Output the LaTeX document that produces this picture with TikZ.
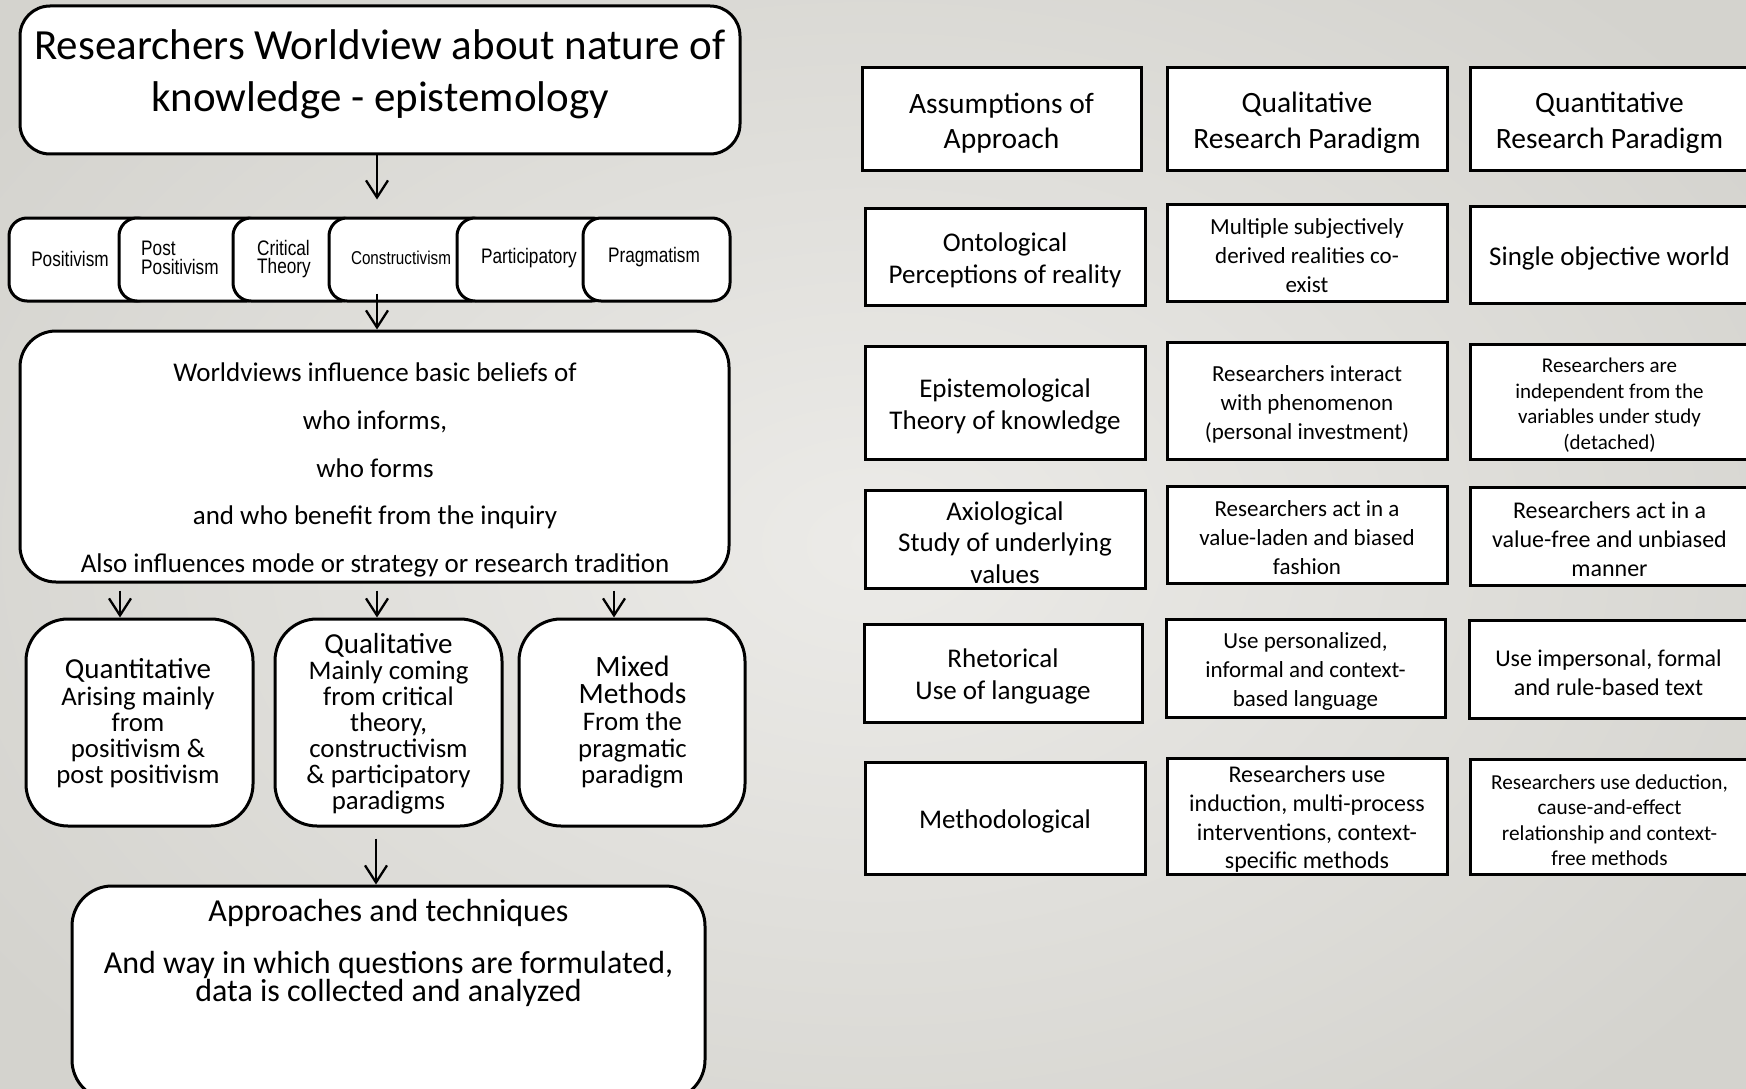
\documentclass[tikz,border=0pt]{standalone}
\usepackage{fontspec}
\setmainfont{Carlito}
\newfontfamily\narrowfont[FakeStretch=0.82]{Liberation Sans}
\usetikzlibrary{arrows.meta,calc}
\definecolor{bgin}{RGB}{236,235,232}
\definecolor{bgout}{RGB}{212,211,206}
\newcommand{\fsz}[2]{\fontsize{#1pt}{#2pt}\selectfont}
% name, x, y, width, height, font, text
\newcommand{\tcell}[7]{%
  \node[cell,minimum width=#4,minimum height=#5] (#1) at (#2,#3) {};
  \node[txt,font=#6,yshift=-3.5pt] (#1t) at (#1) {#7};}
\begin{document}
\begin{tikzpicture}[x=1pt,y=-1pt,
  rbox/.style={draw=black,line width=3pt,fill=white,rounded corners=#1,inner sep=0pt},
  cell/.style={draw=black,line width=3pt,fill=white,inner sep=0pt},
  txt/.style={align=center,inner sep=0pt},
  arr/.style={line width=2.3pt,-{Straight Barb[length=17pt,width=22pt]}}]
\useasboundingbox (0,0) rectangle (1746,1089);
\clip (0,0) rectangle (1746,1089);
\shade[inner color=bgin,outer color=bgout] (-200,-200) rectangle (1946,1289);

% ---------- left: flow ----------
\node[rbox=30,minimum width=720,minimum height=148] (top) at (380,80) {};
\node[txt,font=\fsz{43}{52}] (toptxt) at (380,74.5) {Researchers Worldview about nature of\\knowledge - epistemology};

\node[rbox=18,minimum width=146,minimum height=83] (pos) at (82,259.5) {};
\node[rbox=18,minimum width=146,minimum height=83] (post) at (192,259.5) {};
\node[rbox=18,minimum width=127,minimum height=83] (crit) at (296.5,259.5) {};
\node[rbox=18,minimum width=161,minimum height=83] (cons) at (409.5,259.5) {};
\node[rbox=18,minimum width=153,minimum height=83] (part) at (533.5,259.5) {};
\node[rbox=18,minimum width=147,minimum height=83] (prag) at (656.5,259.5) {};
\node[txt,font=\narrowfont\fsz{21}{20}] (postxt) at (70,258.5) {Positivism};
\node[inner sep=0pt,align=left,anchor=west,font=\narrowfont\fsz{21}{18.5}] (posttxt) at (141,258) {Post\\Positivism};
\node[inner sep=0pt,align=left,anchor=west,font=\narrowfont\fsz{21}{18.5}] (crittxt) at (257,259) {Critical\\Theory};
\node[txt,font=\narrowfont\fsz{18.6}{17}] (constxt) at (401,258) {Constructivism};
\node[txt,font=\narrowfont\fsz{21}{20}] (parttxt) at (529,258.5) {Participatory};
\node[txt,font=\narrowfont\fsz{21}{20}] (pragtxt) at (654,257.5) {Pragmatism};

\node[rbox=36,minimum width=709,minimum height=251] (big) at (374.5,456.5) {};
\node[txt,font=\fsz{27}{47.75}] (bigtxt) at (375,470) {Worldviews influence basic beliefs of\\who informs,\\who forms\\and who benefit from the inquiry\\Also influences mode or strategy or research tradition};

\node[rbox=42,minimum width=227,minimum height=207] (quant) at (139.5,722.5) {};
\node[rbox=42,minimum width=227,minimum height=207] (qual) at (388.5,722.5) {};
\node[rbox=42,minimum width=226,minimum height=207] (mixed) at (632,722.5) {};
\node[txt,font=\fsz{26.8}{26.25}] (quanttxt) at (138,723.5) {{\fsz{29}{26.25}Quantitative}\\Arising mainly\\from\\positivism \&\\post positivism};
\node[txt,font=\fsz{26.8}{26}] (qualtxt) at (388.5,723.5) {{\fsz{29}{26}Qualitative}\\Mainly coming\\from critical\\theory,\\constructivism\\\& participatory\\paradigms};
\node[txt,font=\fsz{26.8}{26.75}] (mixedtxt) at (632.5,722.5) {{\fsz{29.5}{27}Mixed}\\{\fsz{29.5}{27}Methods}\\From the\\pragmatic\\paradigm};

\node[rbox=40,minimum width=633,minimum height=214] (bottom) at (388.5,993) {};
\node[txt,font=\fsz{32}{30}] (bottxt1) at (388.5,912.5) {Approaches and techniques};
\node[txt,font=\fsz{32}{23.5}] (bottxt2) at (388.5,979) {And way in which questions are formulated,\\data is collected and analyzed};

\draw[arr,shorten >=17pt] ([xshift=-3pt]top.south) -- ([xshift=-3pt]top.south |- pos.north);
\draw[arr] ($(big.north |- cons.south)+(2.5,-9)$) -- ([xshift=2.5pt]big.north);
\draw[arr,shorten <=7pt] ([xshift=-19.5pt]quant.north |- big.south) -- ([xshift=-19.5pt]quant.north);
\draw[arr,shorten <=7pt] ([xshift=-11.5pt]qual.north |- big.south) -- ([xshift=-11.5pt]qual.north);
\draw[arr,shorten <=7pt] ([xshift=-18pt]mixed.north |- big.south) -- ([xshift=-18pt]mixed.north);
\draw[arr,shorten <=11pt] ([xshift=-12.5pt]qual.south) -- ([xshift=-12.5pt]qual.south |- bottom.north);

% ---------- right: table ----------
\tcell{a1}{1001.5}{119.5}{279}{103}{\fsz{29.5}{35.5}}{Assumptions of\\Approach}
\tcell{b1}{1307}{119.5}{280}{103}{\fsz{29.5}{35.5}}{Qualitative\\Research Paradigm}
\tcell{c1}{1609.5}{119.5}{279}{103}{\fsz{29.5}{35.5}}{Quantitative\\Research Paradigm}

\tcell{a2}{1005}{256.5}{280}{97}{\fsz{27}{32}}{Ontological\\Perceptions of reality}
\tcell{b2}{1307}{252.5}{280}{97}{\fsz{23}{29}}{Multiple subjectively\\derived realities co-\\exist}
\tcell{c2}{1609.5}{254.5}{279}{97}{\fsz{27}{32}}{Single objective world}

\tcell{a3}{1005}{402.5}{280}{113}{\fsz{27}{32}}{Epistemological\\Theory of knowledge}
\tcell{b3}{1307}{400.5}{280}{117}{\fsz{23}{29}}{Researchers interact\\with phenomenon\\(personal investment)}
\tcell{c3}{1609.5}{401.5}{279}{115}{\fsz{21}{25.5}}{Researchers are\\independent from the\\variables under study\\(detached)}

\tcell{a4}{1005}{539}{280}{98}{\fsz{27}{31.5}}{Axiological\\Study of underlying\\values}
\tcell{b4}{1307}{534.5}{280}{97}{\fsz{23}{29}}{Researchers act in a\\value-laden and biased\\fashion}
\tcell{c4}{1609.5}{536}{279}{98}{\fsz{24}{29}}{Researchers act in a\\value-free and unbiased\\manner}

\tcell{a5}{1003}{673}{278}{98}{\fsz{27}{32}}{Rhetorical\\Use of language}
\tcell{b5}{1305.5}{668}{279}{98}{\fsz{23}{29}}{Use personalized,\\informal and context-\\based language}
\tcell{c5}{1608.5}{669}{279}{98}{\fsz{24}{29}}{Use impersonal, formal\\and rule-based text}

\tcell{a6}{1005}{818}{280}{112}{\fsz{27}{32}}{Methodological}
\tcell{b6}{1307}{816}{280}{116}{\fsz{24}{28.7}}{Researchers use\\induction, multi-process\\interventions, context-\\specific methods}
\tcell{c6}{1609.5}{816.5}{279}{115}{\fsz{21.3}{25.5}}{Researchers use deduction,\\cause-and-effect\\relationship and context-\\free methods}
\end{tikzpicture}
\end{document}
